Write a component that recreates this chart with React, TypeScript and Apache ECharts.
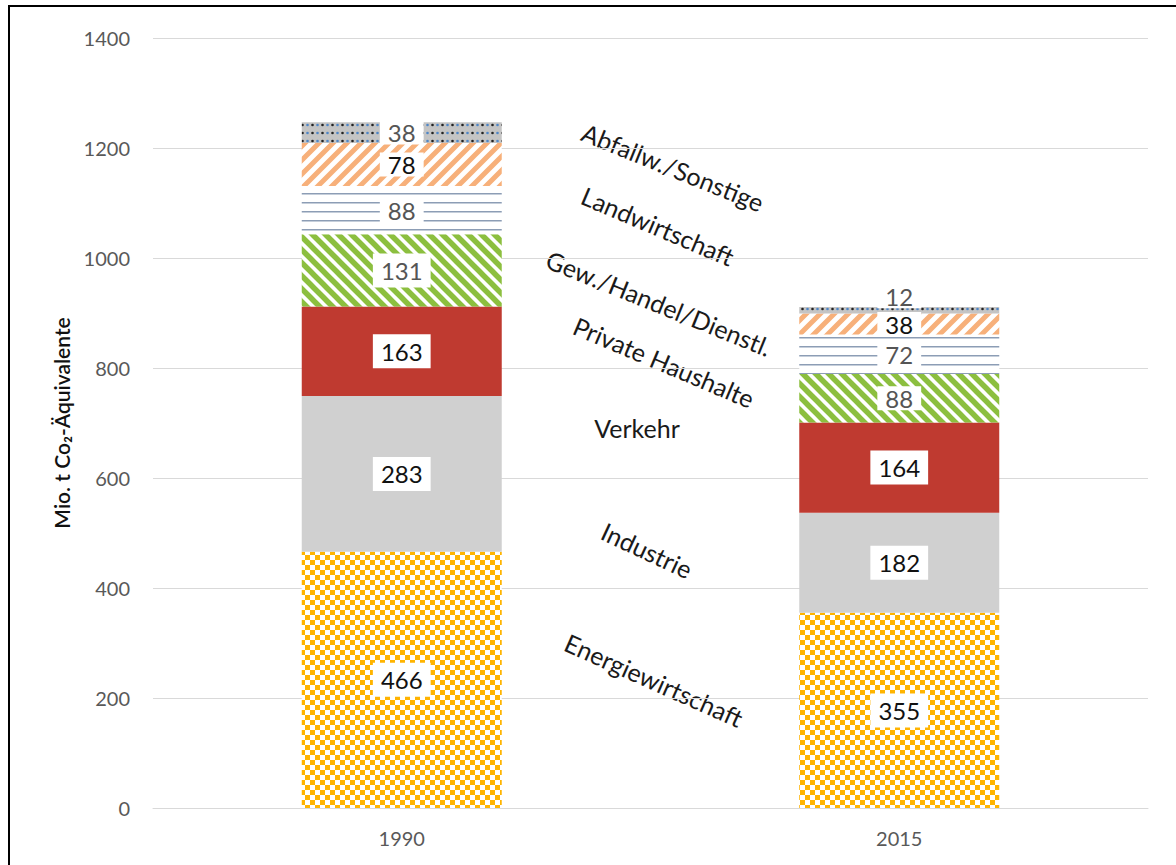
import React, { useEffect, useRef } from "react";
import * as echarts from "echarts";

const years = ["1990", "2015"];
const sectors = [
  "Energiewirtschaft",
  "Industrie",
  "Verkehr",
  "Private Haushalte",
  "Gew./Handel/Dienstl.",
  "Landwirtschaft",
  "Abfallw./Sonstige",
];
const energie = [466, 355];
const industrie = [283, 182];
const verkehr = [163, 164];
const haushalte = [131, 88];
const gewerbe = [88, 72];
const landwirtschaft = [78, 38];
const abfall = [38, 12];
const yTicks = { min: 0, max: 1400, interval: 200 };

const seriesValues = [energie, industrie, verkehr, haushalte, gewerbe, landwirtschaft, abfall];
// label text colours per segment [1990, 2015]
const labelColors = [
  ["#111", "#111"],
  ["#111", "#111"],
  ["#111", "#111"],
  ["#555", "#555"],
  ["#555", "#555"],
  ["#111", "#111"],
  ["#555", "#555"],
];

const FONT = "Lato, 'Open Sans', sans-serif";

function tile(w: number, h: number, draw: (ctx: CanvasRenderingContext2D) => void) {
  const c = document.createElement("canvas");
  c.width = w;
  c.height = h;
  const ctx = c.getContext("2d") as CanvasRenderingContext2D;
  draw(ctx);
  return { image: c, repeat: "repeat", imageWidth: w, imageHeight: h } as any;
}

function makePatterns() {
  const checker = tile(10, 10, (ctx) => {
    ctx.fillStyle = "#ffffff";
    ctx.fillRect(0, 0, 10, 10);
    ctx.fillStyle = "#FFB400";
    ctx.fillRect(0, 0, 5, 5);
    ctx.fillRect(5, 5, 5, 5);
  });
  const up = (color: string, s: number, lw: number) =>
    tile(s, s, (ctx) => {
      ctx.fillStyle = "#ffffff";
      ctx.fillRect(0, 0, s, s);
      ctx.strokeStyle = color;
      ctx.lineWidth = lw;
      ctx.beginPath();
      ctx.moveTo(0, s);
      ctx.lineTo(s, 0);
      ctx.moveTo(-s / 2, s / 2);
      ctx.lineTo(s / 2, -s / 2);
      ctx.moveTo(s / 2, (3 * s) / 2);
      ctx.lineTo((3 * s) / 2, s / 2);
      ctx.stroke();
    });
  const down = (color: string, s: number, lw: number) =>
    tile(s, s, (ctx) => {
      ctx.fillStyle = "#ffffff";
      ctx.fillRect(0, 0, s, s);
      ctx.strokeStyle = color;
      ctx.lineWidth = lw;
      ctx.beginPath();
      ctx.moveTo(0, 0);
      ctx.lineTo(s, s);
      ctx.moveTo(-s / 2, s / 2);
      ctx.lineTo(s / 2, (3 * s) / 2);
      ctx.moveTo(s / 2, -s / 2);
      ctx.lineTo((3 * s) / 2, s / 2);
      ctx.stroke();
    });
  const hlines = tile(4, 9, (ctx) => {
    ctx.fillStyle = "#ffffff";
    ctx.fillRect(0, 0, 4, 9);
    ctx.fillStyle = "#8C9DB5";
    ctx.fillRect(0, 4, 4, 1.5);
  });
  const dots = tile(10, 8, (ctx) => {
    ctx.fillStyle = "#C4C4C4";
    ctx.fillRect(0, 0, 10, 8);
    ctx.fillStyle = "#222";
    ctx.beginPath();
    ctx.arc(2.5, 5, 1.3, 0, Math.PI * 2);
    ctx.fill();
    ctx.fillStyle = "#4F86C6";
    ctx.beginPath();
    ctx.arc(7.5, 5, 1.3, 0, Math.PI * 2);
    ctx.fill();
  });
  return [
    checker,
    "#D0D0D0",
    "#BF3A30",
    down("#8CBF3F", 13, 5.5),
    hlines,
    up("#F7B07A", 14, 5),
    dots,
  ];
}

const annotations = [
  { text: "Abfallw./Sonstige", x: 673, y: 167, rot: -22 },
  { text: "Landwirtschaft", x: 658, y: 226, rot: -23 },
  { text: "Gew./Handel/Dienstl.", x: 659, y: 303, rot: -22 },
  { text: "Private Haushalte", x: 664, y: 362, rot: -23 },
  { text: "Verkehr", x: 637, y: 428, rot: 0 },
  { text: "Industrie", x: 647, y: 550, rot: -25 },
  { text: "Energiewirtschaft", x: 654, y: 680, rot: -24 },
];

export default function App() {
  const ref = useRef<HTMLDivElement>(null);
  useEffect(() => {
    if (!ref.current) return;
    const chart = echarts.init(ref.current, undefined, { renderer: "svg" });
    const patterns = makePatterns();
    const series = sectors.map((name, si) => ({
      name,
      type: "bar",
      stack: "total",
      barWidth: 200,
      itemStyle: { color: patterns[si] },
      data: seriesValues[si].map((v, yi) => {
        const small = v < 100;
        const isTiny = v < 20;
        return {
          value: v,
          label: {
            show: true,
            position: "inside",
            color: labelColors[si][yi],
            fontSize: 24,
            fontFamily: FONT,
            backgroundColor: "#ffffff",
            padding: small ? [0, 8] : [5, 8],
            offset: isTiny ? [0, -14] : [0, 0],
          },
        };
      }),
    }));
    chart.setOption({
      animation: false,
      backgroundColor: "#ffffff",
      grid: { left: 153, right: 28, top: 38, bottom: 57, containLabel: false },
      xAxis: {
        type: "category",
        data: years,
        axisLine: { lineStyle: { color: "#D9D9D9", width: 1 } },
        axisTick: { show: false },
        axisLabel: { fontSize: 20, color: "#595959", fontFamily: FONT, margin: 20 },
      },
      yAxis: {
        type: "value",
        min: yTicks.min,
        max: yTicks.max,
        interval: yTicks.interval,
        name: "Mio. t Co₂-Äquivalente",
        nameLocation: "middle",
        nameGap: 81,
        nameTextStyle: { fontSize: 21, color: "#111", fontFamily: FONT, fontWeight: 600 },
        axisLine: { show: false },
        axisTick: { show: false },
        splitLine: { lineStyle: { color: "#D9D9D9", width: 1 } },
        axisLabel: {
          fontSize: 20,
          color: "#595959",
          fontFamily: FONT,
          margin: 23,
          formatter: (v: number) => String(v),
        },
      },
      series,
      graphic: [
        { type: "rect", shape: { x: 8, y: 5, width: 2, height: 860 }, style: { fill: "#000" } },
        { type: "rect", shape: { x: 8, y: 5, width: 1168, height: 2 }, style: { fill: "#000" } },
        ...annotations.map((a) => ({
          type: "text",
          x: a.x,
          y: a.y,
          rotation: (a.rot * Math.PI) / 180,
          style: {
            text: a.text,
            fontSize: 25,
            fontFamily: FONT,
            fill: "#1a1a1a",
            textAlign: "center",
            textVerticalAlign: "middle",
          },
        })),
      ],
    });
    return () => chart.dispose();
  }, []);
  return (
    <div
      ref={ref}
      style={{ position: "absolute", left: 0, top: 0, width: 1176, height: 865 }}
    />
  );
}
